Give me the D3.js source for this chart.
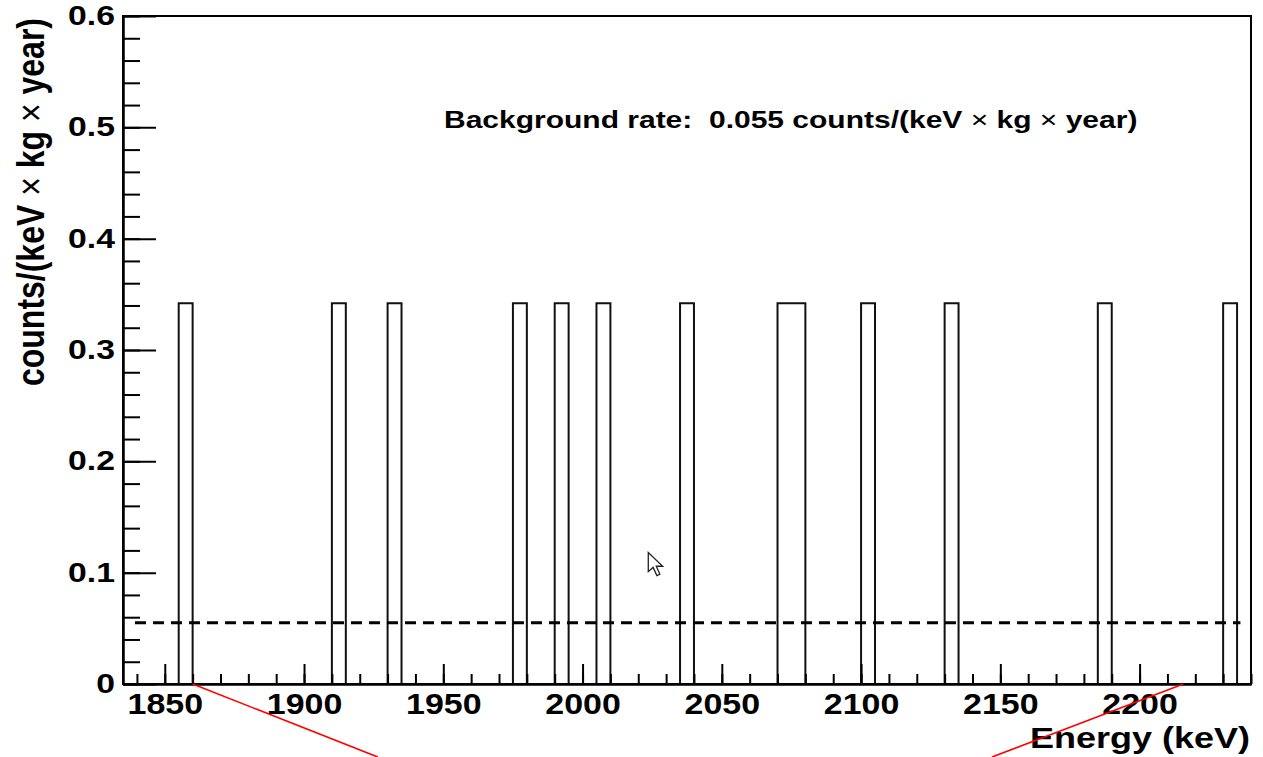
<!DOCTYPE html>
<html>
<head>
<meta charset="utf-8">
<script src="https://cdn.jsdelivr.net/npm/d3@7"></script>
<style>
  html, body { margin: 0; padding: 0; background: #fff; }
  svg { display: block; }
  text { font-family: "Liberation Sans", Arial, Helvetica, sans-serif; font-weight: bold; fill: #000; white-space: pre; }
  tspan.times { font-weight: normal; }
</style>
</head>
<body>
<svg id="chart" width="1263" height="757"></svg>
<script>
// Energy window of the spectrum (keV) and histogram binning
const energyRange = [1835, 2240];
const binWidth = 5;
// Low edges of the bins that hold an event, and their rate in counts/(keV x kg x year)
const eventBinLow = [1855, 1910, 1930, 1975, 1990, 2005, 2035, 2070, 2075, 2100, 2130, 2185, 2230];
const eventBinRate = [0.342, 0.342, 0.342, 0.342, 0.342, 0.342, 0.342, 0.342, 0.342, 0.342, 0.342, 0.342, 0.342];
// Flat background level and the energy span of its line
const backgroundRate = 0.055;
const backgroundSpan = [1839.3, 2236.2];
// Axis ticks
const xMajorTicks = [1850, 1900, 1950, 2000, 2050, 2100, 2150, 2200];
const xMinorTicks = [1840, 1850, 1860, 1870, 1880, 1890, 1900, 1910, 1920, 1930, 1940, 1950, 1960, 1970, 1980, 1990,
  2000, 2010, 2020, 2030, 2040, 2050, 2060, 2070, 2080, 2090, 2100, 2110, 2120, 2130, 2140, 2150, 2160, 2170,
  2180, 2190, 2200, 2210, 2220, 2230, 2240];
const yMajorTicks = [0, 0.1, 0.2, 0.3, 0.4, 0.5, 0.6];
const yMinorTicks = [0, 0.02, 0.04, 0.06, 0.08, 0.1, 0.12, 0.14, 0.16, 0.18, 0.2, 0.22, 0.24, 0.26, 0.28, 0.3,
  0.32, 0.34, 0.36, 0.38, 0.4, 0.42, 0.44, 0.46, 0.48, 0.5, 0.52, 0.54, 0.56, 0.58, 0.6];
// Labels (pieces split at the multiplication signs)
const xTitle = "Energy (keV)";
const yTitleParts = ["counts/(keV ", "\u00d7", " kg ", "\u00d7", " year)"];
const rateLabelParts = ["Background rate:  0.055 counts/(keV ", "\u00d7", " kg ", "\u00d7", " year)"];
// Red zoom guide lines: [energy, rate] end points
const guideLeft = [[1860, 0], [1926.5, -0.0656]];
const guideRight = [[2215.7, 0], [2147, -0.0656]];
// Mouse pointer tip, in data units
const pointerAt = [2023.6, 0.118];

const svg = d3.select("#chart");
const frame = { left: 123, right: 1251, top: 16, bottom: 684 };

const x = d3.scaleLinear().domain(energyRange).range([frame.left, frame.right]);
const y = d3.scaleLinear().domain([0, 0.6]).range([frame.bottom, frame.top]);

// Frame (top and right edges of the pad)
svg.append("rect")
  .attr("x", frame.left).attr("y", frame.top)
  .attr("width", frame.right - frame.left).attr("height", frame.bottom - frame.top)
  .attr("fill", "none").attr("stroke", "#000").attr("stroke-width", 2);

// Histogram as a single step outline over all bins
const nBins = Math.round((energyRange[1] - energyRange[0]) / binWidth);
const binEdges = d3.range(nBins + 1).map(i => energyRange[0] + i * binWidth);
const rateByBin = new Map(eventBinLow.map((e, i) => [e, eventBinRate[i]]));
const steps = [];
binEdges.slice(0, -1).forEach(e => {
  const v = rateByBin.get(e) || 0;
  steps.push([e, v], [e + binWidth, v]);
});
svg.append("path")
  .datum(steps)
  .attr("fill", "none")
  .attr("stroke", "#111")
  .attr("stroke-width", 2)
  .attr("d", d3.line().x(d => x(d[0])).y(d => y(d[1])));

// Background rate line
svg.append("line")
  .attr("x1", x(backgroundSpan[0])).attr("x2", x(backgroundSpan[1]))
  .attr("y1", y(backgroundRate)).attr("y2", y(backgroundRate))
  .attr("stroke", "#000").attr("stroke-width", 3)
  .attr("stroke-dasharray", "11,7");

// Horizontal stretch applied to tick labels
function stretch(sel, sx) {
  sel.each(function () {
    const t = d3.select(this);
    const x0 = +t.attr("x") || 0;
    t.attr("x", x0 / sx).attr("transform", `scale(${sx},1)`);
  });
}

// X axis: minor and major ticks pointing into the frame
const xMinor = svg.append("g").attr("transform", `translate(0,${frame.bottom})`)
  .call(d3.axisBottom(x).tickValues(xMinorTicks).tickSize(-10).tickSizeOuter(0).tickFormat(""));
const xMajor = svg.append("g").attr("transform", `translate(0,${frame.bottom})`)
  .call(d3.axisBottom(x).tickValues(xMajorTicks).tickSize(-20).tickSizeOuter(0).tickPadding(9.5).tickFormat(d3.format("d")));

// Y axis
const yMinor = svg.append("g").attr("transform", `translate(${frame.left},0)`)
  .call(d3.axisLeft(y).tickValues(yMinorTicks).tickSize(-17).tickSizeOuter(0).tickFormat(""));
const yMajor = svg.append("g").attr("transform", `translate(${frame.left},0)`)
  .call(d3.axisLeft(y).tickValues(yMajorTicks).tickSize(-33).tickSizeOuter(0).tickPadding(8)
    .tickFormat(d => d === 0 ? "0" : d.toFixed(1)));

[xMinor, xMajor, yMinor, yMajor].forEach(g => {
  g.selectAll("path.domain").attr("stroke", "#000").attr("stroke-width", 2);
  g.selectAll(".tick line").attr("stroke", "#000").attr("stroke-width", 2);
});
xMajor.selectAll(".tick text").attr("font-size", 29).attr("font-family", null).call(stretch, 1.17);
yMajor.selectAll(".tick text").attr("font-size", 27).attr("font-family", null).call(stretch, 1.25);

// Text built from pieces, with the multiplication signs in a lighter weight
function addParts(textSel, parts) {
  parts.forEach(p => {
    textSel.append("tspan").attr("class", p === "\u00d7" ? "times" : null).text(p);
  });
  return textSel;
}

// Axis titles
svg.append("text")
  .attr("transform", `translate(${frame.right - 1},748) scale(1.2,1)`)
  .attr("text-anchor", "end")
  .attr("font-size", 30)
  .text(xTitle);

addParts(svg.append("text")
  .attr("transform", `translate(44,18) rotate(-90) scale(1,1.2)`)
  .attr("text-anchor", "end")
  .attr("font-size", 32), yTitleParts);

// Background rate annotation
addParts(svg.append("text")
  .attr("transform", `translate(444,128) scale(1.25,1)`)
  .attr("font-size", 24), rateLabelParts);

// Red guide lines below the axis
const guide = d3.line().x(d => x(d[0])).y(d => y(d[1]));
[guideLeft, guideRight].forEach(pts => {
  svg.append("path").datum(pts)
    .attr("d", guide)
    .attr("fill", "none").attr("stroke", "#f00").attr("stroke-width", 1.6);
});

// Mouse pointer
svg.append("path")
  .attr("transform", `translate(${x(pointerAt[0])},${y(pointerAt[1])})`)
  .attr("d", "M0,0 L0,19 L4.8,14.8 L8.6,23 L11.6,21.6 L8,13.6 L14.4,13.6 Z")
  .attr("fill", "#fff").attr("stroke", "#222").attr("stroke-width", 1.3)
  .attr("stroke-linejoin", "miter");
</script>
</body>
</html>
